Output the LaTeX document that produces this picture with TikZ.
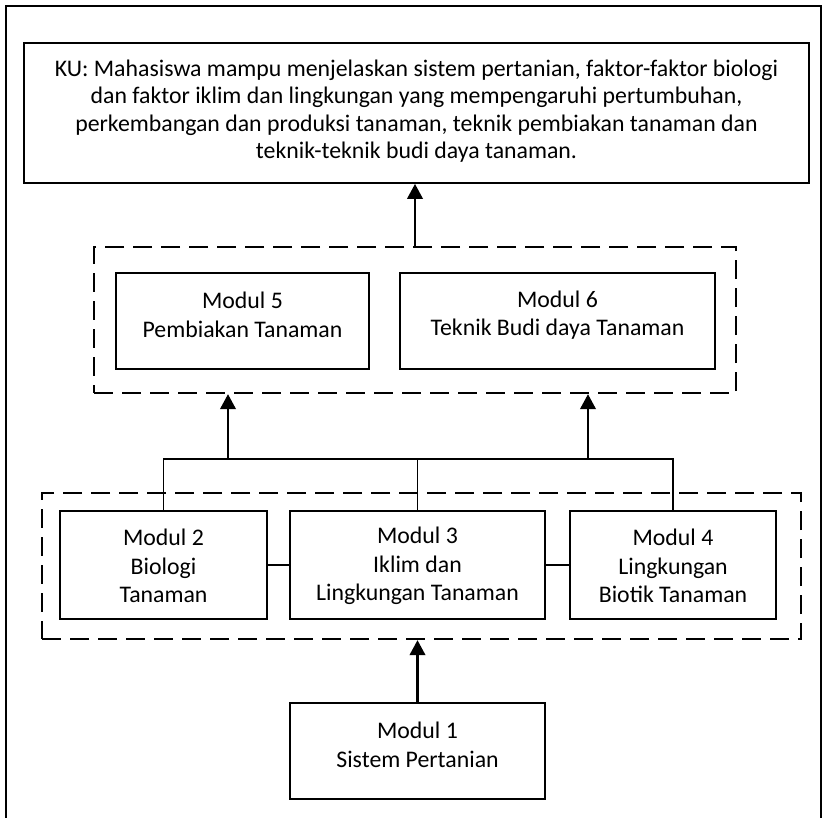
\documentclass[tikz,border=0pt]{standalone}
\usepackage{fontspec}
\setmainfont{Carlito}
\usetikzlibrary{arrows.meta}
\tikzset{
  x=1pt, y=-1pt,
  box/.style={draw, line width=1.8pt, inner sep=0pt},
  dbox/.style={draw, line width=2.3pt, dash pattern=on 19pt off 9pt, inner sep=0pt},
  txt/.style={align=center, font=\fontsize{23.8}{28.5}\selectfont, inner sep=0pt},
  kutxt/.style={align=center, font=\fontsize{23.8}{27.4}\selectfont, inner sep=0pt},
  conn/.style={line width=1.8pt},
  arr/.style={line width=2.4pt, -{Triangle[width=15.5pt,length=15pt]}}
}
\begin{document}
\begin{tikzpicture}
\useasboundingbox (0,0) rectangle (833,817);
\draw[line width=2.2pt] (6,840) -- (6,6) -- (821,6) -- (821,840);

\node[box, minimum width=785pt, minimum height=140pt] (ku) at (416.5,113) {};
\node[kutxt] (kut) at (416.5,111) {KU: Mahasiswa mampu menjelaskan sistem pertanian, faktor-faktor biologi\\dan faktor iklim dan lingkungan yang mempengaruhi pertumbuhan,\\perkembangan dan produksi tanaman, teknik pembiakan tanaman dan\\teknik-teknik budi daya tanaman.};

\node[dbox, minimum width=642pt, minimum height=146pt] (updash) at (415,320) {};
\node[box, minimum width=253pt, minimum height=96pt] (m5) at (242.5,321) {};
\node[txt] (m5t) at (242.5,315) {Modul 5\\Pembiakan Tanaman};
\node[box, minimum width=315pt, minimum height=96pt] (m6) at (557.5,321) {};
\node[txt] (m6t) at (557.5,315) {Modul 6\\Teknik Budi daya Tanaman};

\node[dbox, minimum width=759pt, minimum height=146pt] (lowdash) at (421.5,566) {};
\node[box, minimum width=207pt, minimum height=108pt] (m2) at (163.5,565) {};
\node[txt] (m2t) at (163.5,566) {Modul 2\\Biologi\\Tanaman};
\node[box, minimum width=255pt, minimum height=108pt] (m3) at (417.5,565) {};
\node[txt] (m3t) at (417.5,566) {Modul 3\\Iklim dan\\Lingkungan Tanaman};
\node[box, minimum width=206pt, minimum height=108pt] (m4) at (673,565) {};
\node[txt] (m4t) at (673,566) {Modul 4\\Lingkungan\\Biotik Tanaman};

\node[box, minimum width=255pt, minimum height=96pt] (m1) at (417.5,751) {};
\node[txt] (m1t) at (417.5,745) {Modul 1\\Sistem Pertanian};

\coordinate (bus) at (0,459);
\coordinate (a5) at (228,459);
\coordinate (a6) at (588,459);

\draw[conn] (m2.north) -- (m2.north |- bus) -- (m4.north |- bus) -- (m4.north);
\draw[conn] (m3.north) -- (m3.north |- bus);
\draw[conn] (m2.east) -- (m3.west);
\draw[conn] (m3.east) -- (m4.west);

\draw[arr] (a5) -- (a5 |- updash.south);
\draw[arr] (a6) -- (a6 |- updash.south);
\draw[arr] (updash.north) -- (updash.north |- ku.south);
\draw[arr] (m1.north) -- (m1.north |- lowdash.south);
\end{tikzpicture}
\end{document}
